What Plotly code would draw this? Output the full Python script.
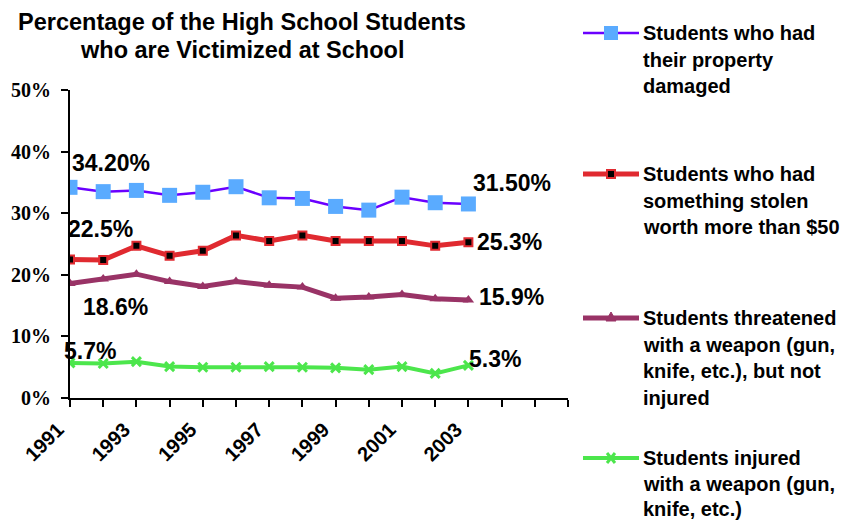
import plotly.graph_objects as go

# ---------------- data ----------------
years = list(range(1991, 2004))
property_damaged = [34.2, 33.5, 33.7, 32.9, 33.4, 34.3, 32.5, 32.4, 31.1, 30.5, 32.6, 31.7, 31.5]
stolen_over_50 = [22.5, 22.4, 24.7, 23.1, 23.9, 26.4, 25.5, 26.4, 25.5, 25.5, 25.5, 24.7, 25.3]
threatened = [18.6, 19.3, 20.1, 18.9, 18.1, 18.9, 18.3, 18.0, 16.2, 16.4, 16.8, 16.1, 15.9]
injured = [5.7, 5.6, 5.9, 5.1, 5.0, 5.0, 5.1, 5.0, 4.9, 4.6, 5.1, 4.0, 5.3]

property_labels = ["34.20%", "31.50%"]
stolen_labels = ["22.5%", "25.3%"]
threatened_labels = ["18.6%", "15.9%"]
injured_labels = ["5.7%", "5.3%"]

axis_years = list(range(1991, 2007))
tick_text = [str(y) if (y % 2 == 1 and y <= 2003) else "" for y in axis_years]
y_ticks = [0, 10, 20, 30, 40, 50]

series_names = [
    ["Students who had", "their property", "damaged"],
    ["Students who had", "something stolen", "worth more than $50"],
    ["Students threatened", "with a weapon (gun,", "knife, etc.), but not", "injured"],
    ["Students injured", "with a weapon (gun,", "knife, etc.)"],
]

# ---------------- layout geometry (window pixels) ----------------
OFF = 8  # page body margin in the browser
W, H = 852 - OFF, 521 - OFF
L, R, T, B = 70, 568, 90, 398   # plot area in window pixels


def px(x):
    return (x - L) / (R - L)


def py(y):
    return (B - y) / (B - T)


BLUE_LINE = "#6a00ff"
BLUE_MARK = "#5aabff"
RED = "#e02a30"
PURPLE = "#993366"
GREEN = "#4ce64c"

SANS = "Liberation Sans, Arial, sans-serif"
SERIF = "Liberation Serif, Times New Roman, serif"

fig = go.Figure()

fig.add_trace(go.Scatter(
    x=years, y=injured, mode="lines+markers", name="injured",
    line=dict(color=GREEN, width=4),
    marker=dict(symbol="x-thin", size=9, color=GREEN, line=dict(color=GREEN, width=3)),
))
fig.add_trace(go.Scatter(
    x=years, y=threatened, mode="lines+markers", name="threatened",
    line=dict(color=PURPLE, width=5),
    marker=dict(symbol="triangle-up", size=10, color=PURPLE),
))
fig.add_trace(go.Scatter(
    x=years, y=stolen_over_50, mode="lines+markers", name="stolen",
    line=dict(color=RED, width=5),
    marker=dict(symbol="square", size=8, color="black", line=dict(color=RED, width=2)),
))
fig.add_trace(go.Scatter(
    x=years, y=property_damaged, mode="lines+markers", name="property",
    line=dict(color=BLUE_LINE, width=2.5),
    marker=dict(symbol="square", size=15, color=BLUE_MARK),
))

annotations = []

# title
for txt, yy in [("Percentage of the High School Students", 22), ("who are Victimized at School", 50)]:
    annotations.append(dict(text=txt, x=px(242), y=py(yy),
                            xref="paper", yref="paper", xanchor="center", yanchor="middle",
                            showarrow=False, font=dict(family=SANS, size=23.5, color="black", weight="bold")))

# data labels (first and last point of each series)
label_specs = [
    (property_damaged, property_labels, [(0, 24), (3, 21)]),
    (stolen_over_50, stolen_labels, [(-4, 30), (7, 0)]),
    (threatened, threatened_labels, [(11, -24), (9, 3)]),
    (injured, injured_labels, [(-8, 12), (-1, 6)]),
]
for vals, labs, shifts in label_specs:
    for idx, lab, (dx, dy) in zip([0, len(years) - 1], labs, shifts):
        annotations.append(dict(text=lab, x=years[idx], y=vals[idx], xref="x", yref="y",
                                xanchor="left", yanchor="middle", xshift=dx, yshift=dy,
                                showarrow=False,
                                font=dict(family=SANS, size=23, color="black", weight="bold")))

# legend text
legend_first_y = [33, 174, 318, 458]
legend_spacing = [26.5, 26.5, 26.5, 25.5]
for lines, y0, sp in zip(series_names, legend_first_y, legend_spacing):
    for i, ln in enumerate(lines):
        annotations.append(dict(text=ln, x=px(642), y=py(y0 + sp * i), xref="paper", yref="paper",
                                xanchor="left", yanchor="middle", showarrow=False, borderpad=0,
                                font=dict(family=SANS, size=20, color="black", weight="bold")))

# legend keys
shapes = []
key_specs = [
    (BLUE_LINE, 2.5, 33),
    (RED, 5, 174),
    (PURPLE, 5, 318),
    (GREEN, 4, 458),
]
for color, width, yk in key_specs:
    shapes.append(dict(type="line", xref="paper", yref="paper", x0=px(583), x1=px(639),
                       y0=py(yk), y1=py(yk), line=dict(color=color, width=width)))

cx = px(611)
shapes.append(dict(type="rect", xref="paper", yref="paper", xsizemode="pixel", ysizemode="pixel",
                   xanchor=cx, yanchor=py(33), x0=-7, x1=7, y0=-7, y1=7,
                   fillcolor=BLUE_MARK, line=dict(width=0)))
shapes.append(dict(type="rect", xref="paper", yref="paper", xsizemode="pixel", ysizemode="pixel",
                   xanchor=cx, yanchor=py(174), x0=-4, x1=4, y0=-4, y1=4,
                   fillcolor="black", line=dict(color=RED, width=2)))
shapes.append(dict(type="path", xref="paper", yref="paper", xsizemode="pixel", ysizemode="pixel",
                   xanchor=cx, yanchor=py(318), path="M -5,-3 L 5,-3 L 0,6 Z",
                   fillcolor=PURPLE, line=dict(color=PURPLE, width=1)))
shapes.append(dict(type="path", xref="paper", yref="paper", xsizemode="pixel", ysizemode="pixel",
                   xanchor=cx, yanchor=py(458), path="M -4,-5 L 4,5 M -4,5 L 4,-5",
                   line=dict(color=GREEN, width=3)))

fig.update_layout(
    width=W, height=H,
    margin=dict(l=L - OFF, r=852 - R, t=T - OFF, b=521 - B, pad=0, autoexpand=False),
    paper_bgcolor="white", plot_bgcolor="white",
    showlegend=False,
    annotations=annotations,
    shapes=shapes,
    xaxis=dict(
        range=[1991, 2006], tickmode="array", tickvals=axis_years, ticktext=tick_text,
        tickangle=-45, showgrid=False, zeroline=False, automargin=False,
        showline=True, linecolor="black", linewidth=2,
        ticks="outside", ticklen=7, tickwidth=2, tickcolor="black",
        ticklabelshift=-12, ticklabelstandoff=3,
        tickfont=dict(family=SANS, size=20, color="black", weight="bold"),
    ),
    yaxis=dict(
        range=[0, 50], tickmode="array", tickvals=y_ticks,
        ticktext=[f"{v}%" for v in y_ticks],
        showgrid=False, zeroline=False, automargin=False,
        showline=True, linecolor="black", linewidth=2,
        ticks="outside", ticklen=7, tickwidth=2, tickcolor="black",
        ticklabelstandoff=6,
        tickfont=dict(family=SERIF, size=20, color="black", weight="bold"),
    ),
)

fig.write_html("out.html")
